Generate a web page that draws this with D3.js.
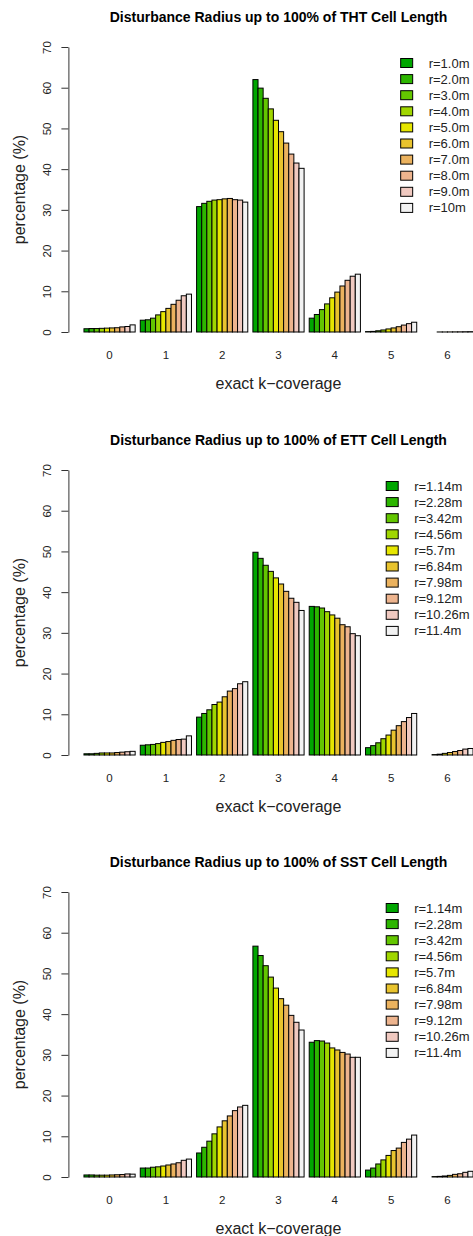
<!DOCTYPE html>
<html>
<head>
<meta charset="utf-8">
<script src="https://cdn.jsdelivr.net/npm/d3@7"></script>
<style>
  body { margin: 0; background: #fff; }
  svg { display: block; font-family: "Liberation Sans", Arial, sans-serif; }
</style>
</head>
<body>
<div id="chart"></div>
<script>
// categories
const kCoverage = ['0', '1', '2', '3', '4', '5', '6'];
const yTicks = [0, 10, 20, 30, 40, 50, 60, 70];

// legend labels per panel
const thtRadii = ['r=1.0m', 'r=2.0m', 'r=3.0m', 'r=4.0m', 'r=5.0m', 'r=6.0m', 'r=7.0m', 'r=8.0m', 'r=9.0m', 'r=10m'];
const ettRadii = ['r=1.14m', 'r=2.28m', 'r=3.42m', 'r=4.56m', 'r=5.7m', 'r=6.84m', 'r=7.98m', 'r=9.12m', 'r=10.26m', 'r=11.4m'];
const sstRadii = ['r=1.14m', 'r=2.28m', 'r=3.42m', 'r=4.56m', 'r=5.7m', 'r=6.84m', 'r=7.98m', 'r=9.12m', 'r=10.26m', 'r=11.4m'];

// terrain.colors(10)
const radiusColors = ['#00A600', '#2DB600', '#63C600', '#A0D600', '#E6E600', '#E8C32E', '#EBB25E', '#EDB48E', '#F0C9C0', '#F2F2F2'];

// percentages, one row per k, one value per radius
const thtValues = [
    [0.8, 0.85, 0.85, 0.9, 0.95, 1.0, 1.05, 1.25, 1.35, 1.75],
    [2.9, 3.0, 3.4, 4.2, 5.0, 5.8, 6.8, 7.8, 8.9, 9.3],
    [30.8, 31.6, 32.1, 32.4, 32.5, 32.7, 32.8, 32.5, 32.4, 31.9],
    [62.0, 59.9, 57.4, 54.8, 52.0, 49.2, 46.4, 43.7, 41.5, 40.2],
    [3.4, 4.3, 5.5, 6.9, 8.4, 9.8, 11.3, 12.7, 13.7, 14.2],
    [0.1, 0.15, 0.3, 0.5, 0.75, 1.0, 1.3, 1.7, 2.05, 2.4],
    [0.0, 0.0, 0.0, 0.01, 0.01, 0.02, 0.03, 0.04, 0.06, 0.08]
];
const ettValues = [
    [0.3, 0.3, 0.4, 0.5, 0.5, 0.5, 0.6, 0.7, 0.8, 0.9],
    [2.4, 2.5, 2.6, 2.8, 3.1, 3.3, 3.6, 3.8, 3.9, 4.7],
    [9.3, 10.2, 11.1, 12.4, 13.0, 14.3, 15.7, 16.3, 17.5, 18.0],
    [49.8, 48.3, 46.6, 45.1, 43.5, 42.0, 40.2, 38.5, 37.5, 35.5],
    [36.5, 36.4, 36.1, 35.2, 34.4, 33.6, 32.0, 31.5, 29.8, 29.3],
    [1.8, 2.3, 3.0, 4.0, 4.9, 6.1, 7.2, 8.2, 9.2, 10.2],
    [0.0, 0.0, 0.1, 0.2, 0.4, 0.6, 0.85, 1.1, 1.45, 1.6]
];
const sstValues = [
    [0.5, 0.5, 0.45, 0.45, 0.45, 0.5, 0.55, 0.6, 0.75, 0.7],
    [2.2, 2.2, 2.4, 2.5, 2.7, 2.95, 3.2, 3.5, 4.1, 4.4],
    [5.9, 7.3, 8.8, 10.6, 12.3, 13.8, 15.0, 16.3, 17.2, 17.6],
    [56.7, 54.4, 51.9, 49.1, 46.4, 43.8, 42.2, 39.7, 38.0, 36.1],
    [33.1, 33.5, 33.4, 32.9, 31.7, 31.2, 30.6, 30.2, 29.4, 29.4],
    [1.7, 2.2, 3.2, 4.2, 5.3, 6.5, 7.1, 8.5, 9.3, 10.3],
    [0.0, 0.0, 0.1, 0.15, 0.25, 0.4, 0.65, 0.8, 1.15, 1.4]
];

const panels = [
    {title: 'Disturbance Radius up to 100% of THT Cell Length', radii: thtRadii, values: thtValues},
    {title: 'Disturbance Radius up to 100% of ETT Cell Length', radii: ettRadii, values: ettValues},
    {title: 'Disturbance Radius up to 100% of SST Cell Length', radii: sstRadii, values: sstValues}
];

const width = 473, height = 1236;
const panelOffsets = [0, 423, 845];
const barsPerGroup = 10, groupUnits = 11;
const totalUnits = kCoverage.length * groupUnits; // 77
const pad = 0.04 * (totalUnits - 1);

const svg = d3.select('#chart').append('svg')
    .attr('width', width)
    .attr('height', height);

// bar position in barplot units
const x = d3.scaleLinear()
    .domain([1 - pad, totalUnits + pad])
    .range([68.4, 488.6]);
const unit = x(1) - x(0);

panels.forEach((panel, p) => {
    const oy = panelOffsets[p];
    const y = d3.scaleLinear().domain([0, 70]).range([332 + oy, 47 + oy]);
    const g = svg.append('g');

    // title
    g.append('text')
        .attr('x', (x.range()[0] + x.range()[1]) / 2)
        .attr('y', 22 + oy)
        .attr('text-anchor', 'middle')
        .attr('font-size', 14)
        .attr('font-weight', 'bold')
        .text(panel.title);

    // bars
    panel.values.forEach((row, k) => {
        g.selectAll(null)
            .data(row)
            .join('rect')
            .attr('x', (d, j) => x(k * groupUnits + 1 + j))
            .attr('y', d => y(d))
            .attr('width', unit)
            .attr('height', d => y(0) - y(d))
            .attr('fill', (d, j) => radiusColors[j])
            .attr('stroke', '#000')
            .attr('stroke-width', 1);
    });

    // y axis, R style
    const axis = d3.axisLeft(y).tickValues(yTicks).tickSize(7).tickPadding(3).tickSizeOuter(0);
    const ag = g.append('g')
        .attr('transform', 'translate(' + x.range()[0] + ',0)')
        .call(axis);
    ag.select('.domain').attr('stroke', '#333');
    ag.selectAll('.tick line').attr('stroke', '#333');
    ag.selectAll('.tick text')
        .attr('font-size', 11.5)
        .attr('font-family', '"Liberation Sans", Arial, sans-serif')
        .attr('fill', '#222')
        .attr('text-anchor', 'middle')
        .attr('x', null)
        .attr('dy', null)
        .attr('transform', 'translate(-17,0) rotate(-90)');

    // group labels
    g.selectAll(null)
        .data(kCoverage)
        .join('text')
        .attr('x', (d, k) => x(k * groupUnits + 1 + barsPerGroup / 2))
        .attr('y', y(0) + 27)
        .attr('text-anchor', 'middle')
        .attr('font-size', 11.5)
        .attr('fill', '#222')
        .text(d => d);

    // axis titles
    g.append('text')
        .attr('x', (x.range()[0] + x.range()[1]) / 2)
        .attr('y', y(0) + 57)
        .attr('text-anchor', 'middle')
        .attr('font-size', 16)
        .attr('fill', '#222')
        .text('exact k\u2212coverage');
    const yMid = (y(0) + y(70)) / 2;
    g.append('text')
        .attr('transform', 'translate(25,' + yMid + ') rotate(-90)')
        .attr('text-anchor', 'middle')
        .attr('font-size', 16)
        .attr('fill', '#222')
        .text('percentage (%)');

    // legend, top right
    const leg = g.append('g');
    const labels = leg.selectAll(null)
        .data(panel.radii)
        .join('text')
        .attr('y', (d, j) => y(70) + 16 + j * 16.1)
        .attr('dy', '0.35em')
        .attr('font-size', 13)
        .attr('fill', '#222')
        .text(d => d);
    let maxW = 0;
    labels.each(function() { maxW = Math.max(maxW, this.getComputedTextLength()); });
    const textX = 469.5 - maxW;
    labels.attr('x', textX);
    leg.selectAll(null)
        .data(panel.radii)
        .join('rect')
        .attr('x', textX - 28)
        .attr('y', (d, j) => y(70) + 16 + j * 16.1 - 4.5)
        .attr('width', 12)
        .attr('height', 9)
        .attr('fill', (d, j) => radiusColors[j])
        .attr('stroke', '#000')
        .attr('stroke-width', 1);
});
</script>
</body>
</html>
